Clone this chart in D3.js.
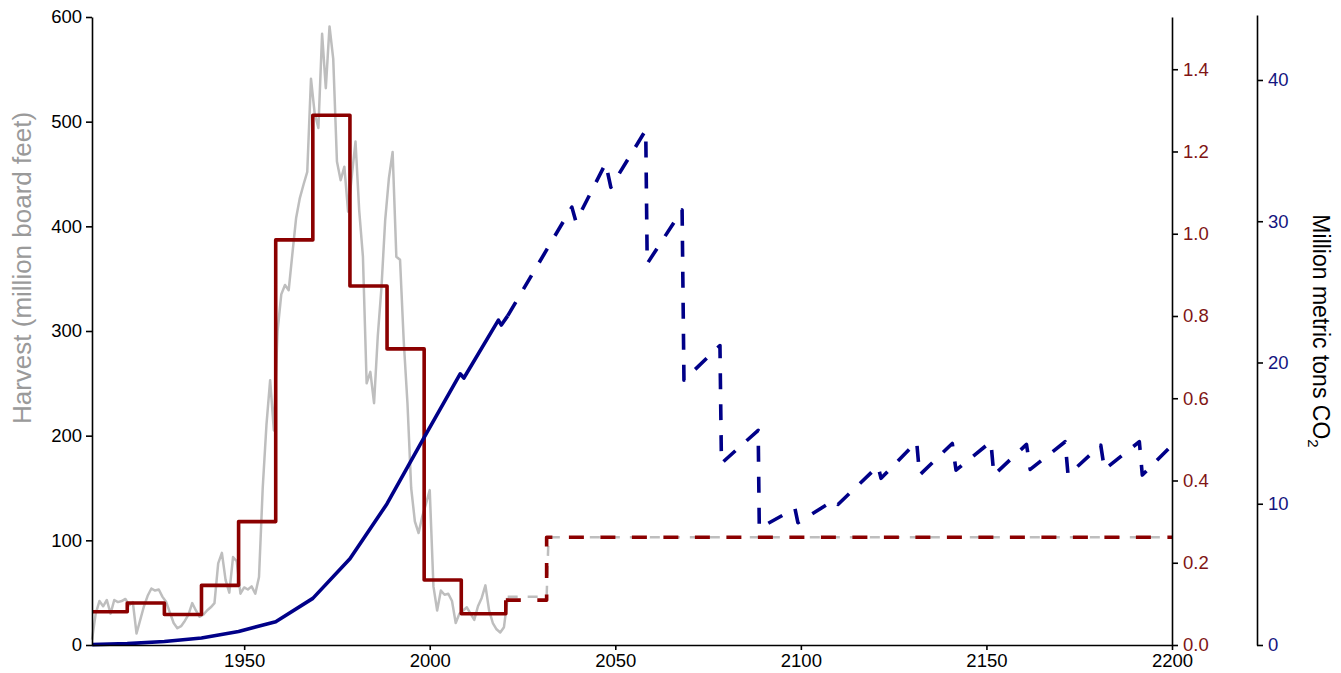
<!DOCTYPE html>
<html>
<head>
<meta charset="utf-8">
<script src="https://cdn.jsdelivr.net/npm/d3@7"></script>
<style>
  html, body { margin: 0; padding: 0; background: #fff; }
  svg { display: block; font-family: "Liberation Sans", Arial, sans-serif; }
  .axis path, .axis line { stroke: #000; stroke-width: 1.6; }
</style>
</head>
<body>
<div id="chart"></div>
<script>
// annual harvest, million board feet
const harvestYears = d3.range(1909, 2022);
const harvest = [
  5, 30, 42, 37, 43, 30, 43, 41, 42, 44, 38, 41,
  11, 24, 37, 47, 54, 52, 53, 46, 41, 31,
  21, 16, 18, 23, 29, 40, 33, 27, 29, 33,
  36, 40, 78, 88, 62, 50, 84, 80, 49, 55,
  53, 56, 49, 65, 150, 210, 253, 205, 300, 335,
  344, 339, 374, 408, 427, 440, 452, 541, 508, 494,
  584, 532, 591, 560, 462, 444, 457, 414, 448, 481,
  415, 371, 250, 261, 231, 295, 342, 406, 446, 471,
  371, 368, 290, 231, 150, 118, 107, 123, 135, 148,
  56, 33, 52, 48, 49, 42, 21, 30, 33, 36,
  30, 24, 37, 45, 57, 33, 21, 15, 12, 17, 45
];
// projected harvest
const harvestProjYears = [2021, 2031.5, 2032, 2200];
const harvestProj = [46, 46, 103, 103];

// decadal harvest (right axis, dark red)
const decadeYears = [1909, 1918.5, 1928.5, 1938.5, 1948.5, 1958.5, 1968.5, 1978.5, 1988.5, 1998.5, 2008.5, 2020.5];
const decadeHarvest = [0.081, 0.102, 0.074, 0.145, 0.300, 0.985, 1.288, 0.873, 0.720, 0.158, 0.076, 0.109];
const decadeProjYears = [2020.5, 2031.5, 2200];
const decadeProj = [0.109, 0.262, 0.262];

// carbon stored, million metric tons CO2
const carbonYears = [1909, 1918.5, 1928.5, 1938.5, 1948.5, 1958.5, 1968.5, 1978.5, 1988.5, 1998.5,
  2008.2, 2009.2, 2018.5, 2019.3, 2021];
const carbon = [0.03, 0.1, 0.25, 0.5, 0.95, 1.65, 3.3, 6.1, 10.0, 14.7,
  19.2, 18.9, 23.0, 22.65, 23.3];
const carbonProjYears = [2021, 2038.3, 2039.4, 2047.4, 2048.8, 2058.2, 2058.6, 2068, 2068.5,
  2078.2, 2078.6, 2088.5, 2088.8, 2098.4, 2099.2, 2109, 2110, 2120.8, 2121.6,
  2131.2, 2132, 2140.8, 2141.8, 2151.2, 2152, 2160.8, 2161.8, 2171.2, 2172,
  2180.8, 2181.8, 2191.2, 2192, 2200];
const carbonProj = [23.3, 31.0, 29.96, 34.1, 32.4, 36.45, 27.0, 30.8, 18.75,
  21.2, 12.86, 15.2, 8.26, 9.67, 8.66, 10.26, 9.95, 12.67, 11.8,
  14.39, 12.03, 14.27, 12.38, 14.39, 12.03, 14.2, 12.43, 14.39, 12.03,
  14.15, 12.43, 14.39, 12.03, 14.15];

const xTicks = [1950, 2000, 2050, 2100, 2150, 2200];
const leftTicks = [0, 100, 200, 300, 400, 500, 600];
const redTicks = [0, 0.2, 0.4, 0.6, 0.8, 1.0, 1.2, 1.4];
const blueTicks = [0, 10, 20, 30, 40];

const width = 1341, height = 673;
const margin = { left: 92, right: 1172, top: 17, bottom: 645 };
const blueAxisX = 1257;

const gray = '#bebebe', red = '#8b0000', navy = '#000088';

const svg = d3.select('#chart').append('svg')
  .attr('width', width)
  .attr('height', height);

const x = d3.scaleLinear().domain([1909, 2200]).range([margin.left, margin.right]);
const y = d3.scaleLinear().domain([0, 600]).range([margin.bottom, margin.top]);
const yRed = d3.scaleLinear().domain([0, 1.527]).range([margin.bottom, margin.top]);
const yBlue = d3.scaleLinear().domain([0, 44.6]).range([margin.bottom, margin.top - 2]);

const zip = (a, b) => a.map((d, i) => [d, b[i]]);

// lines
const grayLine = d3.line().x(d => x(d[0])).y(d => y(d[1]));
const redLine = d3.line().curve(d3.curveStepAfter).x(d => x(d[0])).y(d => yRed(d[1]));
const blueLine = d3.line().x(d => x(d[0])).y(d => yBlue(d[1]));

const plot = svg.append('g').attr('fill', 'none').attr('stroke-linejoin', 'round');

plot.append('path')
  .datum(zip(harvestYears, harvest))
  .attr('d', grayLine)
  .attr('stroke', gray)
  .attr('stroke-width', 2.5);

plot.append('path')
  .datum(zip(harvestProjYears, harvestProj))
  .attr('d', grayLine)
  .attr('stroke', gray)
  .attr('stroke-width', 2.5)
  .attr('stroke-dasharray', '10,10');

plot.append('path')
  .datum(zip(decadeYears, decadeHarvest))
  .attr('d', redLine)
  .attr('stroke', red)
  .attr('stroke-width', 3.6);

plot.append('path')
  .datum(zip(decadeProjYears, decadeProj))
  .attr('d', redLine)
  .attr('stroke', red)
  .attr('stroke-width', 3.6)
  .attr('stroke-dasharray', '15,16.5');

plot.append('path')
  .datum(zip(carbonYears, carbon))
  .attr('d', blueLine)
  .attr('stroke', navy)
  .attr('stroke-width', 3.6);

plot.append('path')
  .datum(zip(carbonProjYears, carbonProj))
  .attr('d', blueLine)
  .attr('stroke', navy)
  .attr('stroke-width', 3.6)
  .attr('stroke-dasharray', '16,15');

// axes
const fontSize = 18.5;

const xAxis = svg.append('g')
  .attr('class', 'axis')
  .attr('transform', `translate(0,${margin.bottom})`)
  .call(d3.axisBottom(x).tickValues(xTicks).tickFormat(d3.format('d'))
    .tickSize(5).tickSizeOuter(0).tickPadding(4));

const yAxis = svg.append('g')
  .attr('class', 'axis')
  .attr('transform', `translate(${margin.left},0)`)
  .call(d3.axisLeft(y).tickValues(leftTicks).tickSize(6).tickSizeOuter(0).tickPadding(4));

const redAxis = svg.append('g')
  .attr('class', 'axis')
  .attr('transform', `translate(${margin.right},0)`)
  .call(d3.axisRight(yRed).tickValues(redTicks).tickFormat(d3.format('.1f'))
    .tickSize(6).tickSizeOuter(0).tickPadding(5));

const blueAxis = svg.append('g')
  .attr('class', 'axis')
  .attr('transform', `translate(${blueAxisX},0)`)
  .call(d3.axisRight(yBlue).tickValues(blueTicks).tickSize(6).tickSizeOuter(0).tickPadding(5));

svg.selectAll('.axis text')
  .attr('font-family', '"Liberation Sans", Arial, sans-serif')
  .attr('font-size', fontSize);
xAxis.selectAll('text').attr('fill', '#000');
yAxis.selectAll('text').attr('fill', '#000');
redAxis.selectAll('text').attr('fill', '#801515');
blueAxis.selectAll('text').attr('fill', '#15157f');

// axis titles
svg.append('text')
  .attr('transform', `translate(31,268) rotate(-90)`)
  .attr('text-anchor', 'middle')
  .attr('font-size', 26)
  .attr('fill', '#9a9a9a')
  .text('Harvest (million board feet)');

const co2 = svg.append('text')
  .attr('transform', `translate(1313,331) rotate(90)`)
  .attr('text-anchor', 'middle')
  .attr('font-size', 23)
  .attr('fill', '#000');
co2.append('tspan').text('Million metric tons CO');
co2.append('tspan').attr('font-size', 15).attr('dy', 5).text('2');
</script>
</body>
</html>
